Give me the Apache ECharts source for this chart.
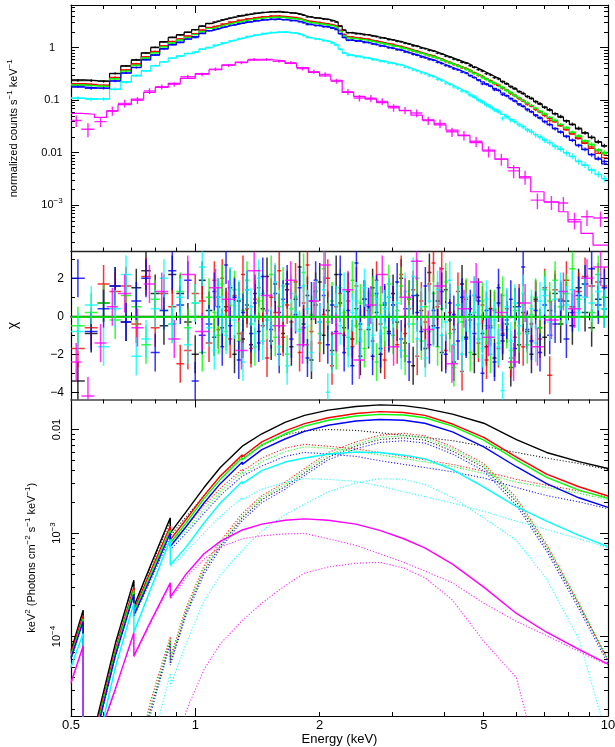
<!DOCTYPE html>
<html>
<head>
<meta charset="utf-8">
<script src="https://cdn.jsdelivr.net/npm/echarts@6/dist/echarts.min.js"></script>
<style>
html,body{margin:0;padding:0;background:#ffffff;}
#chart{width:615px;height:747px;}
</style>
</head>
<body>
<div id="chart"></div>
<script>
// ---------------- spectral bins (keV) ----------------
const binEdges = [0.50,0.54,0.58,0.62,0.66,0.70,0.74,0.78,0.82,0.86,0.90,0.94,0.98,1.02,1.06,1.10,
  1.125,1.15,1.175,1.20,1.23,1.26,1.29,1.32,1.35,1.38,1.41,1.44,1.475,1.51,1.545,1.58,1.615,1.65,1.69,1.73,1.77,1.81,1.85,1.89,1.935,1.98,2.025,2.07,2.12,2.17,2.22,2.27,2.32,2.375,2.43,2.485,2.54,2.60,2.66,2.72,2.78,2.845,2.91,2.98,3.05,3.12,3.19,3.26,3.335,3.41,3.49,3.57,3.65,3.735,3.82,3.91,4.0,4.09,4.185,4.28,4.38,4.48,4.585,4.69,4.80,4.91,5.02,5.135,5.25,5.37,5.49,5.62,5.75,5.88,6.02,6.16,6.30,6.45,6.60,6.76,6.93,7.12,
  7.33,7.56,7.80,8.06,8.34,8.64,8.96,9.30,9.65,9.95];
const binEdgesMagenta = [0.50,0.53,0.57,0.61,0.65,0.70,0.75,0.80,0.86,0.92,1.00,1.08,1.16,1.25,1.34,1.44,1.54,1.65,1.76,1.88,2.00,2.13,2.27,2.42,2.58,2.75,2.93,3.12,3.33,3.55,3.79,4.05,4.33,4.63,4.96,5.32,5.72,6.10,6.50,7.00,7.60,8.00,8.60,9.20,10.0];

// ---------------- counts spectra (counts s^-1 keV^-1) ----------------
const countsBlack = [0.238,0.236,0.228,0.324,0.447,0.59,0.79,1.02,1.28,1.58,1.77,1.96,2.2,2.6,2.88,
  3.08,3.2,3.4,3.51,3.7,3.8,4.05,4.1,4.3,4.35,4.55,4.56,4.7,4.72,4.86,4.82,4.88,4.73,4.72,4.55,4.53,4.35,4.14,3.86,3.84,3.68,3.66,3.5,3.46,3.27,3.08,2.57,2.17,1.93,1.93,1.85,1.85,1.77,
  1.76,1.66,1.63,1.54,1.52,1.43,1.41,1.33,1.3,1.21,1.18,1.09,1.07,0.985,0.96,0.89,0.865,0.79,0.76,0.69,0.665,0.605,0.58,0.53,0.51,0.455,0.426,0.382,0.36,0.322,0.303,0.27,0.255,0.224,0.207,0.18,0.167,0.145,0.135,0.117,0.109,0.093,0.086,0.073,0.066,0.055,0.049,0.04,0.035,0.0292,0.024,0.0198,0.0162,0.0136];
const countsRed = [0.2,0.199,0.19,0.272,0.372,0.495,0.665,0.85,1.08,1.32,1.45,1.68,1.84,2.17,2.41,
  2.55,2.63,2.83,2.88,3.08,3.13,3.33,3.38,3.55,3.58,3.74,3.76,3.9,3.9,4.02,3.97,4.02,3.9,3.91,3.76,3.75,3.57,3.41,3.19,3.17,3.03,3.02,2.88,2.86,2.69,2.55,2.12,1.79,1.59,1.6,1.52,1.53,1.45,
  1.45,1.35,1.34,1.26,1.24,1.16,1.15,1.07,1.06,0.975,0.95,0.875,0.858,0.785,0.77,0.71,0.695,0.625,0.605,0.545,0.525,0.477,0.46,0.415,0.4,0.356,0.334,0.297,0.282,0.249,0.234,0.206,0.196,0.169,0.156,0.134,0.124,0.107,0.099,0.0845,0.0785,0.066,0.061,0.051,0.041,0.0395,0.0335,0.028,0.0235,0.0193,0.0158,0.0128,0.0108,0.0095];
const countsGreen = [0.194,0.19,0.186,0.252,0.365,0.458,0.63,0.81,1.05,1.22,1.42,1.56,1.8,2.0,2.35,
  2.38,2.57,2.63,2.83,2.88,3.07,3.11,3.3,3.34,3.5,3.51,3.67,3.66,3.8,3.77,3.87,3.78,3.81,3.67,3.67,3.52,3.5,3.2,3.11,2.97,2.96,2.83,2.82,2.68,2.64,2.38,2.07,1.68,1.56,1.49,1.5,1.43,1.43,
  1.35,1.33,1.25,1.24,1.16,1.15,1.07,1.06,0.99,0.965,0.9,0.873,0.81,0.788,0.732,0.711,0.66,0.63,0.575,0.55,0.502,0.482,0.44,0.421,0.383,0.36,0.321,0.302,0.27,0.252,0.225,0.211,0.188,0.174,0.152,0.14,0.121,0.112,0.097,0.0895,0.078,0.071,0.0605,0.055,0.0465,0.0415,0.034,0.0303,0.0244,0.021,0.0166,0.0145,0.0112,0.0101];
const countsBlue = [0.184,0.169,0.17,0.231,0.332,0.418,0.595,0.72,0.955,1.15,1.26,1.47,1.56,1.88,2.1,
  2.23,2.29,2.46,2.5,2.69,2.72,2.9,2.93,3.11,3.1,3.27,3.26,3.41,3.39,3.51,3.45,3.52,3.39,3.42,3.27,3.28,3.1,2.98,2.77,2.77,2.63,2.64,2.5,2.5,2.34,2.22,1.84,1.57,1.38,1.39,1.33,1.34,1.26,
  1.25,1.17,1.15,1.08,1.06,0.995,0.975,0.915,0.895,0.83,0.805,0.745,0.72,0.666,0.645,0.597,0.578,0.525,0.5,0.455,0.435,0.396,0.378,0.343,0.328,0.291,0.272,0.24,0.205,0.2,0.187,0.158,0.155,0.128,0.121,0.106,0.097,0.083,0.077,0.0655,0.0605,0.051,0.0462,0.0388,0.0345,0.0285,0.0248,0.0203,0.0173,0.0137,0.0116,0.0091,0.0078,0.0068];
const countsCyan = [0.11,0.104,0.106,0.163,0.22,0.296,0.36,0.456,0.535,0.64,0.69,0.78,0.83,0.945,1.0,
  1.11,1.13,1.23,1.25,1.35,1.38,1.49,1.52,1.63,1.65,1.75,1.76,1.86,1.87,1.95,1.94,2.0,1.97,1.99,1.92,1.91,1.8,1.7,1.56,1.55,1.46,1.45,1.36,1.34,1.23,1.14,0.93,0.8,0.72,0.72,0.68,0.68,0.64,
  0.635,0.595,0.59,0.552,0.548,0.512,0.508,0.475,0.47,0.43,0.415,0.378,0.365,0.332,0.322,0.292,0.282,0.25,0.238,0.211,0.201,0.179,0.17,0.15,0.144,0.125,0.116,0.1,0.093,0.081,0.075,0.065,0.061,0.045,0.049,0.042,0.0395,0.034,0.0315,0.027,0.0253,0.0218,0.0202,0.0173,0.0157,0.0131,0.0119,0.0098,0.0086,0.0068,0.0059,0.0046,0.0039,0.0032];
const countsMagenta = [0.041,0.028,0.039,0.063,0.087,0.1,0.15,0.18,0.2,0.28,0.31,0.39,0.46,0.52,0.6,0.6,0.55,0.52,0.4,0.35,0.31,0.23,0.145,0.11,0.109,0.095,0.072,0.064,0.057,0.041,0.036,0.025,0.0215,0.0165,0.0107,0.0076,0.0045,0.0035,0.00125,0.00115,0.0011,0.00053,0.0006,0.00057];

// fractional 1-sigma errors on the counts
const relErrBright = [0.06,0.06,0.055,0.05,0.045,0.04,0.038,0.036,0.034,0.032,
  0.03,0.03,0.03,0.03,0.03,0.03,0.03,0.03,0.03,0.03,
  0.03,0.03,0.03,0.03,0.03,0.03,0.03,0.03,0.03,0.03,
  0.03,0.03,0.03,0.03,0.03,0.03,0.03,0.032,0.032,0.032,
  0.032,0.032,0.032,0.033,0.033,0.034,0.036,0.038,0.038,0.038,
  0.038,0.038,0.038,0.039,0.039,0.039,0.04,0.04,0.04,0.04,
  0.041,0.041,0.042,0.042,0.043,0.043,0.044,0.044,0.045,0.045,
  0.046,0.047,0.048,0.049,0.05,0.051,0.052,0.053,0.054,0.055,
  0.056,0.057,0.058,0.059,0.06,0.061,0.062,0.063,0.064,0.065,
  0.066,0.067,0.068,0.069,0.07,0.071,0.072,0.073,0.074,0.075,
  0.077,0.079,0.081,0.083,0.085,0.088,0.09];
const relErrCyan = [0.08,0.08,0.075,0.07,0.06,0.055,0.05,0.048,0.046,0.044,
  0.042,0.04,0.04,0.04,0.04,0.04,0.04,0.04,0.04,0.04,
  0.04,0.04,0.04,0.04,0.04,0.04,0.04,0.04,0.04,0.04,
  0.04,0.04,0.04,0.04,0.041,0.041,0.042,0.043,0.044,0.045,
  0.045,0.046,0.046,0.047,0.047,0.048,0.05,0.052,0.053,0.054,
  0.054,0.055,0.055,0.056,0.056,0.057,0.057,0.058,0.058,0.059,
  0.06,0.06,0.061,0.062,0.063,0.064,0.065,0.066,0.067,0.068,
  0.07,0.071,0.072,0.074,0.075,0.077,0.078,0.08,0.082,0.084,
  0.086,0.088,0.09,0.092,0.094,0.096,0.098,0.1,0.102,0.104,
  0.106,0.108,0.11,0.112,0.114,0.116,0.118,0.12,0.122,0.124,
  0.126,0.128,0.13,0.133,0.136,0.14,0.145];
const relErrMagenta = [0.25,0.3,0.22,0.2,0.17,0.15,0.13,0.11,0.1,0.09,0.08,0.075,0.07,0.065,0.06,0.06,0.065,0.07,0.08,0.09,0.1,0.11,0.13,0.14,0.15,0.15,0.16,0.16,0.17,0.18,0.19,0.2,0.21,0.22,0.24,0.26,0.28,0.3,0.33,0.3,0.3,0.35,0.33,0.33];

// ---------------- folded model (step curves) ----------------
const foldBlack = [0.245,0.235,0.23,0.32,0.45,0.58,0.80,1.0,1.3,1.55,1.75,1.98,2.22,2.55,2.9,
  3.05,3.22,3.38,3.53,3.68,3.84,3.99,4.13,4.26,4.38,4.49,4.59,4.68,4.76,4.82,4.85,4.83,4.77,4.69,4.6,4.5,4.38,4.1,3.9,3.8,3.71,3.62,3.53,3.43,3.3,3.05,2.6,2.15,1.95,1.91,1.87,1.83,1.785,
  1.74,1.675,1.615,1.557,1.50,1.445,1.39,1.34,1.286,1.224,1.164,1.106,1.05,0.997,0.948,0.901,0.855,0.80,0.748,0.70,0.655,0.614,0.574,0.537,0.502,0.461,0.422,0.387,0.355,0.326,0.299,0.274,0.252,0.228,0.204,0.184,0.165,0.148,0.133,0.119,0.107,0.095,0.084,0.074,0.0645,0.0557,0.0477,0.0408,0.0342,0.0284,0.0235,0.0194,0.0159,0.0133];
const foldRed = [0.206,0.197,0.193,0.269,0.378,0.487,0.672,0.84,1.09,1.30,1.47,1.66,1.86,2.14,2.44,
  2.52,2.66,2.79,2.91,3.04,3.17,3.29,3.41,3.51,3.61,3.70,3.79,3.86,3.93,3.98,4.00,3.98,3.94,3.87,3.80,3.71,3.61,3.38,3.22,3.14,3.06,2.99,2.91,2.83,2.72,2.52,2.15,1.77,1.61,1.58,1.54,1.51,1.47,
  1.43,1.37,1.32,1.28,1.22,1.18,1.13,1.085,1.04,0.99,0.937,0.89,0.845,0.798,0.758,0.721,0.684,0.636,0.595,0.553,0.517,0.485,0.453,0.422,0.394,0.362,0.329,0.302,0.277,0.253,0.230,0.210,0.192,0.172,0.153,0.137,0.122,0.109,0.097,0.0863,0.077,0.0679,0.0596,0.0522,0.0452,0.0384,0.0324,0.0273,0.0226,0.0185,0.0150,0.0120,0.0097,0.0080];
const foldGreen = [0.196,0.188,0.184,0.256,0.36,0.464,0.64,0.80,1.04,1.24,1.40,1.58,1.78,2.04,2.32,
  2.41,2.54,2.67,2.79,2.91,3.03,3.15,3.26,3.37,3.46,3.55,3.63,3.70,3.76,3.81,3.83,3.82,3.77,3.71,3.63,3.56,3.46,3.24,3.08,3.00,2.93,2.86,2.79,2.71,2.61,2.41,2.05,1.70,1.54,1.51,1.48,1.45,1.41,
  1.37,1.31,1.27,1.22,1.18,1.13,1.08,1.045,1.00,0.955,0.908,0.863,0.819,0.778,0.739,0.703,0.667,0.622,0.582,0.543,0.508,0.476,0.445,0.416,0.388,0.356,0.325,0.298,0.273,0.249,0.228,0.208,0.191,0.172,0.154,0.138,0.123,0.110,0.0988,0.0881,0.0792,0.0698,0.0617,0.054,0.0471,0.0407,0.0346,0.0296,0.0248,0.0204,0.0169,0.014,0.0114,0.0096];
const foldBlue = [0.178,0.171,0.168,0.234,0.329,0.423,0.584,0.73,0.949,1.13,1.28,1.45,1.62,1.86,2.12,
  2.20,2.32,2.43,2.54,2.65,2.76,2.87,2.97,3.07,3.15,3.23,3.30,3.37,3.43,3.47,3.49,3.48,3.43,3.38,3.31,3.24,3.15,2.95,2.81,2.74,2.67,2.61,2.54,2.47,2.38,2.20,1.87,1.55,1.40,1.375,1.35,1.32,1.285,
  1.235,1.186,1.139,1.095,1.05,1.009,0.966,0.929,0.887,0.842,0.797,0.755,0.714,0.676,0.64,0.606,0.573,0.532,0.495,0.462,0.43,0.402,0.374,0.348,0.324,0.296,0.269,0.245,0.224,0.204,0.185,0.168,0.153,0.137,0.122,0.109,0.0964,0.0855,0.0761,0.0674,0.0599,0.0523,0.0456,0.0397,0.0341,0.0291,0.0246,0.0207,0.0171,0.014,0.0114,0.0093,0.0075,0.0061];
const foldCyan = [0.108,0.106,0.105,0.16,0.225,0.29,0.365,0.45,0.54,0.63,0.70,0.77,0.84,0.93,1.02,
  1.09,1.15,1.21,1.27,1.33,1.40,1.47,1.54,1.61,1.67,1.73,1.78,1.84,1.89,1.93,1.96,1.98,1.99,1.97,1.94,1.89,1.82,1.68,1.58,1.53,1.48,1.43,1.38,1.32,1.25,1.13,0.94,0.79,0.73,0.71,0.69,0.67,0.65,
  0.625,0.604,0.583,0.561,0.541,0.521,0.501,0.483,0.464,0.437,0.409,0.384,0.36,0.337,0.317,0.297,0.278,0.255,0.234,0.215,0.198,0.182,0.167,0.153,0.141,0.127,0.114,0.102,0.0915,0.0823,0.0741,0.0666,0.06,0.0538,0.0482,0.0432,0.0387,0.0346,0.031,0.0277,0.0248,0.0222,0.0198,0.0176,0.0154,0.0134,0.0116,0.01,0.0084,0.0069,0.0057,0.0047,0.0038,0.0032];
const foldMagenta = [0.056,0.054,0.047,0.062,0.082,0.105,0.14,0.175,0.21,0.26,0.32,0.38,0.47,0.53,0.58,0.59,0.56,0.5,0.42,0.34,0.29,0.24,0.14,0.118,0.105,0.09,0.076,0.063,0.052,0.042,0.034,0.027,0.021,0.0155,0.0112,0.0075,0.0052,0.0033,0.0018,0.00115,0.00075,0.00048,0.00029,0.000174];

// ---------------- residuals (chi) ----------------
const chiBlack = [-3.4,-0.9,0.7,1.6,-0.3,1.5,2.4,1.2,-0.5,2.2, 1.2,-0.3,-2.0,1.9,0.3,-1.1,1.0,-0.6,0.5,1.5,
  -2.0,0.8,-1.2,0.6,-1.5,1.2,-0.8,0.4,2.1,-1.3, 1.7,0.2,-0.9,1.4,-1.6,0.9,2.6,-0.4,1.1,-2.3,
  0.6,1.8,-1.0,0.3,-1.8,2.2,0.7,-0.6,1.3,-1.2, 0.4,-2.1,0.9,-0.7,1.5,0.2,-2.0,0.6,-0.8,1.2,
  -0.3,2.0,-1.4,0.9,-2.6,1.1,0.3,-1.7,2.3,-0.5, 0.8,-1.9,1.4,-0.2,-2.4,0.6,1.7,-1.1,0.1,-2.0,
  1.0,-0.9,-1.6,0.4,-2.2,0.7,-1.3,-0.4,-2.7,0.5, -1.5,0.2,-0.8,-2.0,0.9,-0.6,-1.1,0.3,1.2,-0.4,
  0.8,-0.5,1.5,0.2,-0.6,0.9,0.4];
const chiRed = [-1.7,-0.6,1.7,1.3,1.6,-0.4,2.1,-0.6,1.2,0.5, -2.5,-1.8,1.2,0.8,-1.4,1.9,-0.7,2.0,0.3,-1.2,
  1.1,-0.9,2.2,0.4,-1.7,0.9,1.5,-0.5,-2.2,1.0, 0.2,2.4,-1.1,0.6,-0.3,1.8,-1.9,0.7,2.7,-0.8,
  1.3,-1.4,0.1,2.0,-2.6,0.5,1.2,-1.0,0.8,-1.6, 1.6,-0.7,0.9,0.3,-1.3,1.9,-0.4,-2.3,1.0,0.6,
  -1.5,2.2,-0.9,0.4,1.4,-2.1,0.8,-0.3,1.7,2.8, 0.5,2.5,-1.8,0.2,-0.7,1.3,-2.9,0.9,-0.2,1.1,
  -1.4,0.6,-2.3,-0.5,0.3,-1.7,-0.9,0.4,-2.2,-1.1, 0.7,-1.6,-0.9,-0.4,0.8,-1.2,1.5,-3.1,1.4,0.9,
  1.9,0.5,1.3,2.1,1.6,1.8,1.6];
const chiGreen = [-0.5,0.2,0.7,-0.2,1.1,0.5,-1.5,0.9,0.3,-0.4, 1.3,-0.6,0.7,-1.9,1.0,0.2,-1.0,1.7,-0.8,0.6,
  1.4,-1.3,0.3,1.9,-0.4,-1.6,0.8,1.2,-0.2,2.2, -1.1,0.5,1.6,-2.0,0.4,1.0,-0.7,2.3,-1.5,0.1,
  1.3,-0.9,2.5,-0.3,0.8,-1.8,1.5,0.2,-1.1,1.9, -0.5,0.7,-1.7,0.4,1.1,-2.4,0.6,-0.6,1.7,-1.0,
  0.3,1.6,-2.1,0.9,-0.4,2.0,-1.3,0.5,-0.8,1.2, -1.6,0.4,1.8,-0.9,-2.7,0.6,-0.3,1.0,-1.9,0.2,
  -1.2,0.8,-0.5,-2.0,0.4,-1.4,1.1,-0.7,-1.8,0.3, -0.9,0.6,-1.5,0.1,1.0,-0.6,1.4,0.8,1.9,0.5,
  1.2,2.5,0.9,1.7,0.2,2.2,1.0];
const chiBlue = [2.0,-0.8,0.4,1.6,-0.3,0.8,2.0,-1.9,0.3,2.4, 0.6,1.9,-3.4,-1.0,-0.4,1.3,0.5,-1.6,2.7,-0.5,
  1.0,-2.3,0.2,1.4,-0.9,0.7,-1.4,2.1,0.3,-0.7, 1.2,-2.0,0.9,1.7,-1.2,0.1,1.5,-0.6,-2.2,0.8,
  1.9,-0.3,1.1,-1.5,0.6,-0.8,2.2,-1.9,0.3,-2.6, 2.8,-0.4,0.9,0.5,-2.1,1.2,-1.7,0.7,-0.9,0.6,
  1.8,-1.2,0.4,-2.4,1.1,0.2,-0.8,1.6,-1.5,0.3, -0.6,1.3,-2.0,0.7,0.1,-1.3,1.0,-1.2,0.4,-0.9,
  0.8,-3.0,0.3,-0.6,-2.4,1.5,-1.0,-0.2,0.9,-1.7, 0.5,2.6,-0.7,-1.3,0.3,-1.9,0.6,-1.0,-0.4,0.8,
  -1.2,0.2,1.1,1.7,2.5,0.6,1.5];
const chiCyan = [-0.8,0.6,-1.6,0.4,2.2,-2.1,-1.2,0.4,2.0,-0.4, 1.0,-1.5,0.7,2.6,-0.6,-1.8,1.0,0.1,-1.0,1.6,
  -0.2,0.9,-2.4,1.4,0.5,-0.9,2.0,-1.3,0.3,-0.5, 1.8,-1.6,0.7,-2.6,1.2,0.2,-0.8,1.6,0.4,-1.9,
  0.9,-0.3,1.4,-4.0,-2.0,0.6,-0.5,1.3,-1.7,0.2, 0.8,-1.3,1.5,-0.6,-1.0,0.9,-0.9,0.4,1.0,-0.2,
  0.7,-1.8,1.3,-0.4,2.1,-1.2,0.5,-2.2,0.8,-0.6, 1.4,-1.0,-0.3,1.9,-1.5,0.6,-2.0,0.2,-0.8,1.1,
  -0.4,-1.7,0.9,-1.1,-0.2,-1.6,-3.9,0.5,-1.3,0.7, -0.5,1.2,-0.9,0.4,-1.4,0.8,1.1,-0.3,0.9,1.3,
  0.6,1.4,0.2,1.0,0.7,1.3,0.4];
const chiMagenta = [-2.4,-4.2,-1.4,0.5,1.2,-0.6,1.7,1.3,-1.2,2.2,-0.8,1.5,0.9,-1.8,2.4,1.1,-0.5,1.9,-1.5,0.8,2.7,-0.9,1.4,-2.3,0.6,2.2,-1.6,1.0,2.9,-0.7,1.6,-2.5,0.4,1.8,-1.1,0.2,-2.4,0.7,-1.6,-0.2,1.3,0.4,2.0,2.6];

// ---------------- unfolded model (keV^2 photons cm^-2 s^-1 keV^-1) ----------------
const modelEnergy = [0.5,0.535,0.535,0.58,0.64,0.71,0.71,0.78,0.87,0.87,0.95,1.05,1.15,1.3,1.3,1.45,1.65,1.84,1.84,2.1,2.45,2.8,3.2,3.6,4.2,5,6,7.1,8.5,10];
const totalBlack = [7.3e-5,1.8e-4,5e-6,1.7e-5,8.5e-5,3.5e-4,1.95e-4,4.9e-4,1.4e-3,1.0e-3,1.6e-3,2.75e-3,4.3e-3,6.9e-3,6.6e-3,9.1e-3,1.17e-2,1.37e-2,1.33e-2,1.54e-2,1.67e-2,1.73e-2,1.70e-2,1.60e-2,1.41e-2,1.15e-2,8.0e-3,6.0e-3,4.9e-3,4.2e-3];
const totalRed = [6.9e-5,1.6e-4,5e-6,1.5e-5,7.4e-5,3.0e-4,1.8e-4,4.3e-4,1.17e-3,8.6e-4,1.35e-3,2.3e-3,3.55e-3,5.7e-3,5.45e-3,7.6e-3,9.7e-3,1.14e-2,1.11e-2,1.30e-2,1.43e-2,1.49e-2,1.46e-2,1.37e-2,1.13e-2,8.4e-3,5.4e-3,3.7e-3,2.8e-3,2.28e-3];
const totalGreen = [6.5e-5,1.48e-4,5e-6,1.4e-5,7.0e-5,2.8e-4,1.7e-4,4.0e-4,1.07e-3,8.0e-4,1.25e-3,2.15e-3,3.3e-3,5.35e-3,5.1e-3,7.1e-3,9.1e-3,1.08e-2,1.05e-2,1.23e-2,1.35e-2,1.40e-2,1.38e-2,1.30e-2,1.08e-2,7.9e-3,5.07e-3,3.45e-3,2.6e-3,2.16e-3];
const totalBlue = [6.2e-5,1.4e-4,5e-6,1.3e-5,6.5e-5,2.57e-4,1.6e-4,3.7e-4,1.0e-3,7.4e-4,1.15e-3,1.95e-3,3.0e-3,4.85e-3,4.6e-3,6.4e-3,8.1e-3,9.6e-3,9.3e-3,1.10e-2,1.21e-2,1.25e-2,1.23e-2,1.15e-2,9.5e-3,6.8e-3,4.37e-3,3.0e-3,2.19e-3,1.77e-3];
const totalCyan = [5.1e-5,1.07e-4,5e-6,9e-6,5.0e-5,2.1e-4,1.1e-4,2.9e-4,8.7e-4,4.9e-4,7.3e-4,1.25e-3,1.95e-3,3.15e-3,3.0e-3,4.0e-3,4.85e-3,5.3e-3,5.15e-3,5.8e-3,6.05e-3,6.0e-3,5.65e-3,5.2e-3,4.1e-3,2.77e-3,1.8e-3,1.3e-3,9.5e-4,7.4e-4];
const totalMagenta = [3.6e-5,8.1e-5,5e-6,1.0e-5,3.1e-5,1.09e-4,6.5e-5,1.4e-4,3.3e-4,2.4e-4,4.0e-4,6.3e-4,8.3e-4,1.07e-3,1.03e-3,1.22e-3,1.33e-3,1.37e-3,1.33e-3,1.33e-3,1.22e-3,1.06e-3,8.8e-4,7.2e-4,5.0e-4,3.0e-4,1.67e-4,1.1e-4,7.5e-5,5.4e-5];

const softBlack = [7.0e-5,1.74e-4,5e-6,1.6e-5,8.2e-5,3.4e-4,1.9e-4,4.7e-4,1.3e-3,9.4e-4,1.43e-3,2.3e-3,3.55e-3,5.5e-3,5.25e-3,7.0e-3,8.9e-3,9.7e-3,9.4e-3,1.0e-2,9.8e-3,9.3e-3,8.8e-3,8.4e-3,7.8e-3,6.9e-3,6.0e-3,5.3e-3,4.7e-3,4.1e-3];
const softRed = [6.7e-5,1.55e-4,5e-6,1.45e-5,7.2e-5,2.9e-4,1.75e-4,4.05e-4,1.07e-3,8.0e-4,1.16e-3,1.84e-3,2.7e-3,4.15e-3,3.95e-3,5.3e-3,6.6e-3,7.2e-3,7.05e-3,6.9e-3,6.5e-3,6.0e-3,5.5e-3,5.1e-3,4.6e-3,3.95e-3,3.3e-3,2.9e-3,2.55e-3,2.22e-3];
const softGreen = [6.3e-5,1.44e-4,5e-6,1.35e-5,6.8e-5,2.7e-4,1.65e-4,3.8e-4,9.8e-4,7.4e-4,1.07e-3,1.7e-3,2.5e-3,3.9e-3,3.7e-3,4.9e-3,6.1e-3,6.8e-3,6.65e-3,6.6e-3,6.2e-3,5.7e-3,5.25e-3,4.85e-3,4.4e-3,3.75e-3,3.1e-3,2.75e-3,2.42e-3,2.1e-3];
const softBlue = [6.0e-5,1.36e-4,5e-6,1.25e-5,6.3e-5,2.5e-4,1.55e-4,3.5e-4,9.2e-4,6.9e-4,9.9e-4,1.55e-3,2.3e-3,3.55e-3,3.4e-3,4.45e-3,5.5e-3,6.0e-3,5.85e-3,5.8e-3,5.5e-3,5.0e-3,4.6e-3,4.3e-3,3.9e-3,3.4e-3,2.75e-3,2.3e-3,2.0e-3,1.72e-3];
const softCyan = [5.0e-5,1.05e-4,5e-6,8.8e-6,4.9e-5,2.05e-4,1.07e-4,2.8e-4,8.4e-4,4.7e-4,6.6e-4,1.0e-3,1.45e-3,2.2e-3,2.1e-3,2.65e-3,3.1e-3,3.35e-3,3.25e-3,3.3e-3,3.15e-3,2.85e-3,2.5e-3,2.25e-3,1.95e-3,1.62e-3,1.3e-3,1.08e-3,8.8e-4,7.2e-4];
const softMagenta = [3.5e-5,7.9e-5,5e-6,9.5e-6,3.0e-5,1.06e-4,6.3e-5,1.35e-4,3.15e-4,2.3e-4,3.7e-4,5.6e-4,7.3e-4,8.8e-4,8.5e-4,9.4e-4,9.8e-4,9.9e-4,9.6e-4,8.8e-4,7.6e-4,6.3e-4,5.2e-4,4.3e-4,3.3e-4,2.1e-4,1.4e-4,1.02e-4,7.2e-5,5.3e-5];

const humpBlack = [null,null,null,null,null,null,5e-6,2.0e-5,9.0e-5,5.6e-5,1.7e-4,4.3e-4,7.5e-4,1.4e-3,1.36e-3,2.1e-3,2.8e-3,3.8e-3,3.65e-3,5.4e-3,6.9e-3,8.0e-3,8.3e-3,7.9e-3,6.2e-3,4.3e-3,2.0e-3,7.2e-4,2.0e-4,6.0e-5];
const humpRed = [null,null,null,null,null,null,5e-6,2.4e-5,1.0e-4,6.3e-5,1.9e-4,4.8e-4,8.3e-4,1.55e-3,1.5e-3,2.3e-3,3.1e-3,4.2e-3,4.05e-3,6.0e-3,7.6e-3,8.8e-3,9.2e-3,8.7e-3,6.8e-3,4.7e-3,2.2e-3,7.8e-4,2.1e-4,5.8e-5];
const humpGreen = [null,null,null,null,null,null,5e-6,2.2e-5,9.5e-5,6.0e-5,1.8e-4,4.6e-4,7.9e-4,1.47e-3,1.43e-3,2.2e-3,2.95e-3,4.0e-3,3.85e-3,5.7e-3,7.2e-3,8.4e-3,8.7e-3,8.3e-3,6.5e-3,4.5e-3,2.1e-3,7.6e-4,2.1e-4,6.0e-5];
const humpBlue = [null,null,null,null,null,null,5e-6,1.8e-5,8.5e-5,5.3e-5,1.6e-4,4.0e-4,7.1e-4,1.32e-3,1.28e-3,1.97e-3,2.65e-3,3.6e-3,3.45e-3,5.1e-3,6.5e-3,7.5e-3,7.8e-3,7.4e-3,5.8e-3,4.0e-3,1.85e-3,6.7e-4,1.85e-4,5.5e-5];
const humpCyan = [null,null,null,null,null,null,2e-6,8e-6,4.4e-5,3.3e-5,8.5e-5,2.2e-4,3.9e-4,6.8e-4,6.6e-4,1.05e-3,1.5e-3,1.9e-3,1.85e-3,2.5e-3,3.05e-3,3.35e-3,3.3e-3,2.95e-3,2.2e-3,1.4e-3,8.5e-4,3.6e-4,9.5e-5,1.0e-5];
const humpMagenta = [null,null,null,null,null,null,null,null,null,3e-6,1.9e-5,4.8e-5,8.5e-5,1.43e-4,1.4e-4,2.1e-4,3.1e-4,4.1e-4,4.0e-4,4.7e-4,5.1e-4,5.2e-4,4.6e-4,3.7e-4,2.25e-4,9e-5,4e-5,3e-6,null,null];

// ---------------- axes: ticks and labels ----------------
const energyLabels = [0.5, 1, 2, 5, 10];
const energyMajorTicks = [1, 10];
const energyMinorTicks = [0.6, 0.7, 0.8, 0.9, 2, 3, 4, 5, 6, 7, 8, 9];
const countsLabels = [0.001, 0.01, 0.1, 1];
const countsMinorTicks = [2e-4,3e-4,4e-4,5e-4,6e-4,7e-4,8e-4,9e-4,2e-3,3e-3,4e-3,5e-3,6e-3,7e-3,8e-3,9e-3,0.02,0.03,0.04,0.05,0.06,0.07,0.08,0.09,0.2,0.3,0.4,0.5,0.6,0.7,0.8,0.9,2,3,4,5,6];
const chiLabels = [-4, -2, 0, 2];
const chiMinorTicks = [-3, -1, 1, 3];
const eeLabels = [1e-4, 1e-3, 0.01];
const eeMinorTicks = [2e-5,3e-5,4e-5,5e-5,6e-5,7e-5,8e-5,9e-5,2e-4,3e-4,4e-4,5e-4,6e-4,7e-4,8e-4,9e-4,2e-3,3e-3,4e-3,5e-3,6e-3,7e-3,8e-3,9e-3];

// ---------------- drawing ----------------
const FONT = '"Liberation Sans", Arial, Helvetica, sans-serif';
const COL = { black: '#000000', red: '#ff0000', green: '#00ff00', blue: '#0000ff', cyan: '#00ffff', magenta: '#ff00ff' };
const SUP = { s: { fontSize: 8, lineHeight: 8, verticalAlign: 'top', fontFamily: FONT, color: '#000' } };

const spectra = [
  { c: COL.black,   edges: binEdges,        counts: countsBlack,   fold: foldBlack,   err: relErrBright,  chi: chiBlack,   total: totalBlack,   soft: softBlack,   hump: humpBlack },
  { c: COL.red,     edges: binEdges,        counts: countsRed,     fold: foldRed,     err: relErrBright,  chi: chiRed,     total: totalRed,     soft: softRed,     hump: humpRed },
  { c: COL.green,   edges: binEdges,        counts: countsGreen,   fold: foldGreen,   err: relErrBright,  chi: chiGreen,   total: totalGreen,   soft: softGreen,   hump: humpGreen },
  { c: COL.blue,    edges: binEdges,        counts: countsBlue,    fold: foldBlue,    err: relErrBright,  chi: chiBlue,    total: totalBlue,    soft: softBlue,    hump: humpBlue },
  { c: COL.cyan,    edges: binEdges,        counts: countsCyan,    fold: foldCyan,    err: relErrCyan,    chi: chiCyan,    total: totalCyan,    soft: softCyan,    hump: humpCyan },
  { c: COL.magenta, edges: binEdgesMagenta, counts: countsMagenta, fold: foldMagenta, err: relErrMagenta, chi: chiMagenta, total: totalMagenta, soft: softMagenta, hump: humpMagenta }
];

function powerLabel(v) {
  const p = Math.round(Math.log10(v));
  if (p === 0) return '1';
  if (p === -1) return '0.1';
  if (p === -2) return '0.01';
  return '10{s|\u2212' + (-p) + '}';
}

const grids = [
  { left: 71, right: 7, top: 5, height: 246.5 },
  { left: 71, right: 7, top: 251.5, height: 148 },
  { left: 71, right: 7, top: 399.5, height: 316.5 }
].map(g => Object.assign({ outerBoundsMode: 'none', containLabel: false }, g));

const frameBottom = [{ color: '#222', width: 1.4 }, { color: '#444', width: 1.6 }, { color: '#000', width: 1.2 }];
const frameTop = [{ color: '#000', width: 1.2 }, { color: '#222', width: 1.4 }, { color: '#444', width: 1.6 }];

const xAxes = [];
const yAxes = [];
for (let gi = 0; gi < 3; gi++) {
  const xb = { gridIndex: gi, type: 'log', logBase: 10, min: 0.5, max: 10, splitLine: { show: false }, silent: true };
  xAxes.push(Object.assign({}, xb, {
    position: 'bottom',
    axisLine: { show: true, lineStyle: frameBottom[gi] },
    axisTick: { show: true, inside: true, length: 8, customValues: energyMajorTicks, lineStyle: { color: '#000', width: 1 } },
    axisLabel: gi === 2 ? { show: true, customValues: energyLabels, formatter: v => String(+v.toPrecision(3)), fontFamily: FONT, fontSize: 13, color: '#000', margin: 3 } : { show: false },
    name: gi === 2 ? 'Energy (keV)' : '', nameLocation: 'middle', nameGap: 17,
    nameTextStyle: { fontFamily: FONT, fontSize: 13, color: '#000' }
  }));
  xAxes.push(Object.assign({}, xb, { position: 'bottom', axisLine: { show: false }, axisTick: { show: true, inside: true, length: 4, customValues: energyMinorTicks, lineStyle: { color: '#000', width: 1 } }, axisLabel: { show: false } }));
  xAxes.push(Object.assign({}, xb, { position: 'top', axisLine: { show: true, lineStyle: frameTop[gi] }, axisTick: { show: true, inside: true, length: 8, customValues: energyMajorTicks, lineStyle: { color: '#000', width: 1 } }, axisLabel: { show: false } }));
  xAxes.push(Object.assign({}, xb, { position: 'top', axisLine: { show: false }, axisTick: { show: true, inside: true, length: 4, customValues: energyMinorTicks, lineStyle: { color: '#000', width: 1 } }, axisLabel: { show: false } }));

  let yb, major, minor, label, name, nameGap;
  if (gi === 0) {
    yb = { type: 'log', logBase: 10, min: 1.31e-4, max: 6.51 };
    major = countsLabels; minor = countsMinorTicks;
    label = { show: true, customValues: countsLabels, formatter: powerLabel, rich: SUP, fontFamily: FONT, fontSize: 11, lineHeight: 16, color: '#000', align: 'center', margin: 19 };
    name = 'normalized counts s{s|\u22121} keV{s|\u22121}'; nameGap = 49;
  } else if (gi === 1) {
    yb = { type: 'value', min: -4.38, max: 3.41 };
    major = chiLabels; minor = chiMinorTicks;
    label = { show: true, customValues: chiLabels, formatter: v => (v < 0 ? '\u2212' + (-v) : String(v)), fontFamily: FONT, fontSize: 12, color: '#000', margin: 7 };
    name = '\u03c7'; nameGap = 50;
  } else {
    yb = { type: 'log', logBase: 10, min: 1.706e-5, max: 0.0195 };
    major = eeLabels; minor = eeMinorTicks;
    label = { show: true, customValues: eeLabels, formatter: powerLabel, rich: SUP, fontFamily: FONT, fontSize: 11, lineHeight: 16, color: '#000', rotate: 90, margin: 6 };
    name = 'keV{s|2} (Photons cm{s|\u22122} s{s|\u22121} keV{s|\u22121})'; nameGap = 31;
  }
  const yBase = Object.assign({ gridIndex: gi, splitLine: { show: false }, silent: true }, yb);
  yAxes.push(Object.assign({}, yBase, {
    position: 'left',
    axisLine: { show: true, lineStyle: { color: '#000', width: 1.2 } },
    axisTick: { show: true, inside: true, length: 8, customValues: major, lineStyle: { color: '#000', width: 1 } },
    axisLabel: label,
    name: name, nameLocation: 'middle', nameGap: nameGap, nameRotate: 90,
    nameTextStyle: { fontFamily: FONT, fontSize: gi === 1 ? 14 : 11, lineHeight: 16, color: '#000', rich: SUP }
  }));
  yAxes.push(Object.assign({}, yBase, { position: 'left', axisLine: { show: false }, axisTick: { show: true, inside: true, length: 4, customValues: minor, lineStyle: { color: '#000', width: 1 } }, axisLabel: { show: false } }));
  yAxes.push(Object.assign({}, yBase, { position: 'right', axisLine: { show: true, lineStyle: { color: '#000', width: 1.2 } }, axisTick: { show: true, inside: true, length: 8, customValues: major, lineStyle: { color: '#000', width: 1 } }, axisLabel: { show: false } }));
  yAxes.push(Object.assign({}, yBase, { position: 'right', axisLine: { show: false }, axisTick: { show: true, inside: true, length: 4, customValues: minor, lineStyle: { color: '#000', width: 1 } }, axisLabel: { show: false } }));
}

// error-bar cross: horizontal bar spans the bin, vertical bar spans the error range
function crossRenderer(color, width, alpha) {
  return function (params, api) {
    const lo = api.value(0), hi = api.value(1), v = api.value(2), vlo = api.value(3), vhi = api.value(4);
    const a = api.coord([lo, v]);
    const b = api.coord([hi, v]);
    const xm = (a[0] + b[0]) / 2;
    const yTop = api.coord([lo, vhi])[1];
    const yBot = api.coord([lo, vlo])[1];
    const st = { stroke: color, lineWidth: width, opacity: alpha };
    return {
      type: 'group',
      children: [
        { type: 'line', shape: { x1: a[0], y1: a[1], x2: b[0], y2: b[1] }, style: st },
        { type: 'line', shape: { x1: xm, y1: yTop, x2: xm, y2: yBot }, style: st }
      ]
    };
  };
}

const series = [];
// panel 1: folded model steps and data
spectra.forEach(s => {
  const n = Math.min(s.fold.length, s.edges.length - 1);
  const steps = [];
  for (let i = 0; i < n; i++) steps.push([s.edges[i], s.fold[i]], [s.edges[i + 1], s.fold[i]]);
  series.push({ type: 'line', xAxisIndex: 0, yAxisIndex: 0, data: steps, showSymbol: false, symbol: 'none', clip: true,
    lineStyle: { color: s.c, width: 1.2 }, silent: true });
  const m = Math.min(s.counts.length, s.err.length, s.edges.length - 1);
  const crosses = [];
  for (let i = 0; i < m; i++) crosses.push([s.edges[i], s.edges[i + 1], s.counts[i], s.counts[i] * (1 - s.err[i]), s.counts[i] * (1 + s.err[i])]);
  series.push({ type: 'custom', xAxisIndex: 0, yAxisIndex: 0, clip: true, silent: true,
    data: crosses, encode: { x: [0, 1], y: [2, 3, 4] }, renderItem: crossRenderer(s.c, 1.4, 0.85) });
});
// panel 2: residuals
spectra.forEach((s, k) => {
  const m = Math.min(s.chi.length, s.edges.length - 1);
  const bars = [];
  for (let i = 0; i < m; i++) bars.push([s.edges[i], s.edges[i + 1], s.chi[i], s.chi[i] - 1, s.chi[i] + 1]);
  const ser = { type: 'custom', xAxisIndex: 4, yAxisIndex: 4, clip: true, silent: true,
    data: bars, encode: { x: [0, 1], y: [2, 3, 4] }, renderItem: crossRenderer(s.c, 1.5, 0.8) };
  if (k === spectra.length - 1) {
    ser.markLine = { silent: true, symbol: 'none', label: { show: false }, animation: false,
      lineStyle: { color: '#00ff00', width: 1.6, type: 'solid', opacity: 1 }, data: [{ yAxis: 0 }] };
  }
  series.push(ser);
});
// panel 3: unfolded model and its components
spectra.forEach(s => {
  const mk = (vals, dotted) => ({
    type: 'line', xAxisIndex: 8, yAxisIndex: 8, showSymbol: false, symbol: 'none', clip: true, silent: true, connectNulls: false,
    data: modelEnergy.map((e, i) => [e, vals[i]]),
    lineStyle: dotted ? { color: s.c, width: 1.1, type: [1.2, 1.8], opacity: 0.85 } : { color: s.c, width: 1.4 }
  });
  series.push(mk(s.soft, true));
  series.push(mk(s.hump, true));
  series.push(mk(s.total, false));
});

const chart = echarts.init(document.getElementById('chart'), null, { renderer: 'canvas' });
chart.setOption({
  animation: false,
  backgroundColor: '#ffffff',
  textStyle: { fontFamily: FONT },
  grid: grids,
  xAxis: xAxes,
  yAxis: yAxes,
  series: series
});
</script>
</body>
</html>
